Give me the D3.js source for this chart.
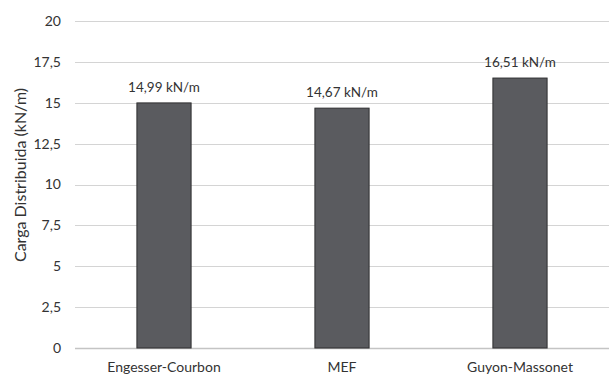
<!DOCTYPE html>
<html><head><meta charset="utf-8">
<script src="https://cdn.jsdelivr.net/npm/d3@7/dist/d3.min.js"></script>
<style>body{margin:0;background:#fff;} text{font-family:Lato,"Open Sans",sans-serif;}</style>
</head><body><svg id="c" width="609" height="376"></svg>
<script>
const categories = ["Engesser-Courbon", "MEF", "Guyon-Massonet"];
const values = [14.99, 14.67, 16.51];
const valueLabels = ["14,99 kN/m", "14,67 kN/m", "16,51 kN/m"];
const yTicks = [0, 2.5, 5, 7.5, 10, 12.5, 15, 17.5, 20];
const yTickLabels = ["0", "2,5", "5", "7,5", "10", "12,5", "15", "17,5", "20"];
const yTitle = "Carga Distribuida (kN/m)";

const svg = d3.select("#c");
const m = {l: 75, r: 609, t: 21, b: 348};
const x = d3.scaleBand().domain(categories).range([m.l, m.r]).paddingInner(0.69).paddingOuter(0.345);
const y = d3.scaleLinear().domain([0, 20]).range([m.b, m.t]);

// grid
svg.append("g").selectAll("line").data(yTicks).join("line")
  .attr("x1", m.l).attr("x2", m.r)
  .attr("y1", d => Math.round(y(d)) + 0.5).attr("y2", d => Math.round(y(d)) + 0.5)
  .attr("stroke", d => d === 0 ? "#c4c4c4" : "#d4d4d4").attr("stroke-width", d => d === 0 ? 1.5 : 1);

// y tick labels
svg.append("g").selectAll("text").data(yTicks).join("text")
  .attr("x", 61).attr("y", d => y(d)).attr("dy", "0.35em")
  .attr("text-anchor", "end").attr("font-size", 14).attr("fill", "#333")
  .text((d, i) => yTickLabels[i]);

// bars
svg.append("g").selectAll("rect").data(values).join("rect")
  .attr("x", (d, i) => x(categories[i]) + 0.5).attr("width", x.bandwidth() - 1)
  .attr("y", d => y(d)).attr("height", d => y(0) - y(d))
  .attr("fill", "#5a5b5f").attr("stroke", "#2e2e30").attr("stroke-width", 1);

// value labels
svg.append("g").selectAll("text").data(values).join("text")
  .attr("x", (d, i) => x(categories[i]) + x.bandwidth() / 2)
  .attr("y", d => y(d) - 16).attr("dy", "0.35em")
  .attr("text-anchor", "middle").attr("font-size", 13.5).attr("fill", "#333")
  .text((d, i) => valueLabels[i]);

// x labels
svg.append("g").selectAll("text").data(categories).join("text")
  .attr("x", d => x(d) + x.bandwidth() / 2).attr("y", 367).attr("dy", "0.35em")
  .attr("text-anchor", "middle").attr("font-size", 14).attr("fill", "#333")
  .text(d => d);

// y title
svg.append("text").attr("transform", `translate(20,175) rotate(-90)`)
  .attr("text-anchor", "middle").attr("dy", "0.35em").attr("font-size", 16).attr("fill", "#333")
  .text(yTitle);
</script></body></html>
